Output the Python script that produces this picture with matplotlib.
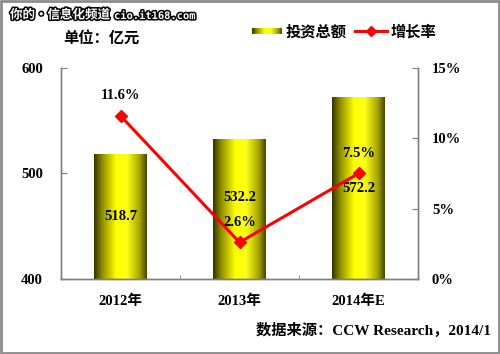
import numpy as np
import matplotlib
matplotlib.use("Agg")
import matplotlib.pyplot as plt
import matplotlib.patheffects as pe
from matplotlib.colors import LinearSegmentedColormap
from matplotlib.lines import Line2D
from matplotlib.patches import Rectangle

# data
years = ["2012年", "2013年", "2014年E"]
invest = [518.7, 532.2, 572.2]          # 投资总额 (亿元)
growth = [11.6, 2.6, 7.5]               # 增长率 (%)
left_ticks = [400, 500, 600]
right_ticks = [0, 5, 10, 15]

serif = ["Liberation Serif", "Noto Sans CJK SC"]
fs = 10.5
spine_c = "#7f7f7f"

# cylinder-like shading for the bars
cyl = LinearSegmentedColormap.from_list(
    "cyl",
    [(0.0, "#333300"), (0.15, "#8c8c00"), (0.42, "#ffff00"),
     (0.62, "#ffff1a"), (0.86, "#a6a600"), (1.0, "#474700")],
)
grad = np.linspace(0, 1, 256).reshape(1, -1)

fig = plt.figure(figsize=(5.0, 3.54), dpi=100)
fig.patch.set_facecolor("white")
ax = fig.add_axes([0.122, 0.212, 0.714, 0.596])
ax2 = ax.twinx()

x = np.arange(len(years))
bw = 0.44
bars = ax.bar(x, invest, width=bw, bottom=0, color="none", edgecolor="none", zorder=2)
for b in bars:
    x0, y0 = b.get_x(), 400
    im = ax.imshow(grad, cmap=cyl, aspect="auto",
                   extent=(x0, x0 + b.get_width(), y0, b.get_height()), zorder=2)
    im.set_clip_path(b)

ax.set_xlim(-0.5, len(years) - 0.5)
ax.set_ylim(400, 600)
ax.set_yticks(left_ticks)
ax.set_yticklabels([str(t) for t in left_ticks], family=serif, weight="bold", fontsize=fs)
ax.set_xticks(x)
ax.set_xticklabels(years, family=serif, weight="bold", fontsize=fs)
ax.tick_params(axis="x", length=0, pad=11)
ax.set_xticks([0.5, 1.5], minor=True)
ax.tick_params(axis="x", which="minor", direction="in", length=3, color=spine_c)
ax.tick_params(axis="y", direction="in", length=4, color=spine_c, pad=13)

ax2.set_ylim(0, 15)
ax2.set_yticks(right_ticks)
ax2.set_yticklabels([f"{t}%" for t in right_ticks], family=serif, weight="bold", fontsize=fs)
ax2.tick_params(axis="y", direction="in", length=4, color=spine_c, pad=10)

for a in (ax, ax2):
    a.spines["top"].set_visible(False)
    for s in ("left", "right", "bottom"):
        a.spines[s].set_color(spine_c)
        a.spines[s].set_linewidth(1.0)

ax2.plot(x, growth, color="#ff0000", lw=2.2, marker="D", ms=6.5, zorder=5)

# value labels
lab_kw = dict(family=serif, weight="bold", fontsize=fs, ha="center", va="center")
shift = [0, 12, 0]
for i, v in enumerate(invest):
    ax.annotate(f"{v:.1f}", (x[i], (400 + v) / 2), xytext=(0, shift[i]),
                textcoords="offset pixels", zorder=6, **lab_kw)
for i, g in enumerate(growth):
    ax2.annotate(f"{g:.1f}%", (x[i], g), xytext=(0, 20),
                 textcoords="offset pixels", zorder=6, **lab_kw)

# unit
fig.text(0.126, 0.892, "单位：亿元", family=serif, weight="bold", fontsize=11,
         ha="left", va="center")

# legend drawn by hand
lax = fig.add_axes([252 / 500, 1 - 34 / 354, 30 / 500, 6 / 354])
lax.imshow(grad, cmap=cyl, aspect="auto")
lax.axis("off")
fig.text(286 / 500, 1 - 32 / 354, "投资总额", family=serif, weight="bold", fontsize=11,
         ha="left", va="center")
fig.add_artist(Line2D([355 / 500, 387 / 500], [1 - 31 / 354] * 2, color="#ff0000",
                      lw=2.2, marker=None, transform=fig.transFigure))
fig.add_artist(Line2D([371 / 500], [1 - 31 / 354], color="#ff0000", marker="D",
                      ms=5, transform=fig.transFigure))
fig.text(391 / 500, 1 - 32 / 354, "增长率", family=serif, weight="bold", fontsize=11,
         ha="left", va="center")

# source
fig.text(491 / 500, 1 - 330 / 354, "数据来源：CCW Research，2014/1", family=serif,
         weight="bold", fontsize=11, ha="right", va="center")

# watermark
wm = fig.text(10 / 500, 1 - 15 / 354, "你的•信息化频道", family=["Noto Sans CJK SC", "DejaVu Sans"],
              weight="bold", fontsize=9, color="white", ha="left", va="center")
wm.set_path_effects([pe.withStroke(linewidth=2.2, foreground="black")])
wm2 = fig.text(114 / 500, 1 - 16 / 354, "cio.it168.com", family="DejaVu Sans Mono",
               weight="bold", fontsize=7.5, color="white", ha="left", va="center")
wm2.set_path_effects([pe.withStroke(linewidth=2.2, foreground="black")])

# image frame
fig.add_artist(Rectangle((0.002, 0.003), 0.996, 0.994, transform=fig.transFigure,
                         fill=False, edgecolor="#8c8c8c", lw=2))

fig.savefig("out.png", dpi=100)
